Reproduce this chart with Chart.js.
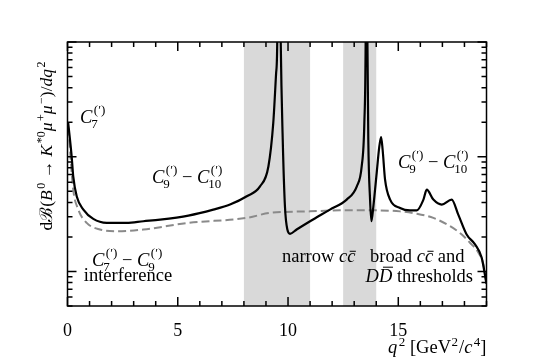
<!DOCTYPE html>
<html>
<head>
<meta charset="utf-8">
<script src="https://cdn.jsdelivr.net/npm/chart.js@4.4.0/dist/chart.umd.min.js"></script>
<style>
  html, body { margin: 0; padding: 0; background: #fff; }
  #wrap { width: 540px; height: 360px; }
</style>
</head>
<body>
<div id="wrap"><canvas id="chart" width="540" height="360"></canvas></div>
<script>
// dB/dq^2 for B0 -> K*0 mu+ mu- (arbitrary units)
// full spectrum including charmonium resonances
const qFull = [0.03, 0.19, 0.26, 0.42, 0.72, 1.17, 1.78, 2.68, 3.44, 4.20, 5.48, 6.61, 7.37, 8.13, 8.73,
  9.11, 9.33, 9.46, 9.51, 9.57, 9.67, 9.76, 9.86, 9.97, 10.09, 10.39, 11.00, 11.90, 12.66, 13.12,
  13.34, 13.46, 13.52, 13.56, 13.60, 13.64, 13.72, 13.78, 13.87, 14.02, 14.14, 14.22, 14.29, 14.40,
  14.63, 15.08, 15.53, 15.84, 16.14, 16.29, 16.59, 16.97, 17.42, 17.72, 18.10, 18.48, 18.78, 19.0];
const bFull = [1.98, 1.0, 0.674, 0.451, 0.346, 0.287, 0.265, 0.265, 0.274, 0.283, 0.307, 0.346, 0.383, 0.452, 0.552,
  0.823, 1.96, 5.35, 9.75, 1000, 9.8, 1.41, 0.370, 0.232, 0.213, 0.232, 0.274, 0.346, 0.423, 0.552,
  0.823, 1.96, 10.4, 1000, 10.4, 1.41, 0.423, 0.274, 0.370, 0.721, 1.23, 1.48, 1.15, 0.631,
  0.423, 0.358, 0.341, 0.341, 0.423, 0.517, 0.423, 0.383, 0.423, 0.313, 0.210, 0.172, 0.132, 0.078];

// short-distance part only (dashed)
const qShort = [0.04, 0.26, 0.49, 0.87, 1.47, 2.23, 3.44, 5.48, 8.13, 9.18, 11.0, 12.36, 13.72, 15.08,
  15.84, 16.59, 17.35, 17.88, 18.25, 18.63, 18.86, 19.0];
const bShort = [1.79, 0.517, 0.346, 0.265, 0.232, 0.224, 0.232, 0.265, 0.293, 0.324, 0.334, 0.341, 0.341, 0.334,
  0.319, 0.293, 0.248, 0.210, 0.178, 0.146, 0.115, 0.078];

// vetoed charmonium regions
const bandLo = [8, 12.5];
const bandHi = [11, 14];

const xTickLabels = [0, 5, 10, 15];

const SERIF = '"Liberation Serif", "DejaVu Serif", serif';
function font(size, it) { return (it ? 'italic ' : '') + size + 'px ' + SERIF; }

// little rich-text writer: parts = [{t, i, sub, sup, bar}]
function layoutRich(ctx, parts, size) {
  const small = Math.round(size * 0.7);
  let w = 0;
  const items = parts.map(p => {
    ctx.font = font(size, p.i);
    const mw = ctx.measureText(p.t).width;
    ctx.font = font(small, false);
    const subW = p.sub ? ctx.measureText(p.sub).width : 0;
    const supW = p.sup ? ctx.measureText(p.sup).width : 0;
    const item = { p, x: w, mw };
    w += mw + Math.max(subW, supW) + (p.sub || p.sup ? 1.5 : 0);
    return item;
  });
  return { items, w };
}

function drawRich(ctx, parts, x, y, size, align) {
  const small = Math.round(size * 0.7);
  const { items, w } = layoutRich(ctx, parts, size);
  const x0 = align === 'center' ? x - w / 2 : align === 'right' ? x - w : x;
  ctx.textAlign = 'left';
  ctx.textBaseline = 'alphabetic';
  ctx.fillStyle = '#000';
  items.forEach(({ p, x: dx, mw }) => {
    const px = x0 + dx;
    ctx.font = font(size, p.i);
    ctx.fillText(p.t, px, y);
    if (p.bar) {
      const h = p.bar === 'cap' ? size * 0.8 : size * 0.58;
      ctx.strokeStyle = '#000';
      ctx.lineWidth = 1;
      ctx.beginPath();
      ctx.moveTo(px + mw * 0.3, y - h);
      ctx.lineTo(px + mw * 1.05, y - h);
      ctx.stroke();
    }
    const both = p.sub && p.sup;
    ctx.font = font(small, false);
    if (p.sup) ctx.fillText(p.sup, px + mw + (p.i ? 1.5 : 0.5), y - size * (both ? 0.46 : 0.38));
    if (p.sub) ctx.fillText(p.sub, px + mw - (p.i ? 1 : 0), y + size * 0.27);
  });
}

const bandsPlugin = {
  id: 'bands',
  beforeDatasetsDraw(chart) {
    const { ctx, chartArea: a, scales: { x } } = chart;
    ctx.save();
    ctx.fillStyle = '#d9d9d9';
    bandLo.forEach((lo, i) => {
      const x1 = x.getPixelForValue(lo), x2 = x.getPixelForValue(bandHi[i]);
      ctx.fillRect(x1, a.top, x2 - x1, a.bottom - a.top);
    });
    ctx.restore();
  }
};

const framePlugin = {
  id: 'frame',
  afterDraw(chart) {
    const { ctx, chartArea: a, scales: { x, y } } = chart;
    ctx.save();
    ctx.strokeStyle = '#000';
    ctx.lineWidth = 1.5;
    ctx.beginPath();
    // inward ticks on x, both edges
    for (let v = Math.ceil(x.min); v <= x.max; v++) {
      const px = x.getPixelForValue(v);
      const len = v % 5 === 0 ? 9 : 5;
      ctx.moveTo(px, a.bottom); ctx.lineTo(px, a.bottom - len);
      ctx.moveTo(px, a.top); ctx.lineTo(px, a.top + len);
    }
    // inward log ticks on y, both edges
    for (let k = -2; k <= 1; k++) {
      for (let m = 1; m <= 9; m++) {
        const v = m * Math.pow(10, k);
        if (v < y.min * 0.999 || v > y.max * 1.001) continue;
        const py = y.getPixelForValue(v);
        const len = m === 1 ? 9 : 5;
        ctx.moveTo(a.left, py); ctx.lineTo(a.left + len, py);
        ctx.moveTo(a.right, py); ctx.lineTo(a.right - len, py);
      }
    }
    ctx.stroke();
    ctx.strokeRect(a.left, a.top, a.right - a.left, a.bottom - a.top);

    // axis titles
    drawRich(ctx, [{ t: 'q', i: true, sup: '2' }, { t: ' [GeV', sup: '2' }, { t: '/' }, { t: 'c', i: true, sup: '4' }, { t: ']' }],
      a.right, 353, 18.5, 'right');
    ctx.save();
    ctx.translate(52, 146);
    ctx.rotate(-Math.PI / 2);
    drawRich(ctx, [{ t: 'dℬ(' }, { t: 'B', i: true, sup: '0' }, { t: ' → ' }, { t: 'K', i: true, sup: '*0' },
      { t: 'μ', i: true, sup: '+' }, { t: 'μ', i: true, sup: '−' }, { t: ')/' }, { t: 'dq', i: true, sup: '2' }],
      0, 0, 17.5, 'center');
    ctx.restore();

    // annotations
    const C = (n) => ({ t: 'C', i: true, sub: n, sup: '(′)' });
    drawRich(ctx, [C('7')], 80, 123, 18.5, 'left');
    drawRich(ctx, [C('9'), { t: ' − ' }, C('10')], 152, 183, 18.5, 'left');
    drawRich(ctx, [C('9'), { t: ' − ' }, C('10')], 398, 168, 18.5, 'left');
    drawRich(ctx, [C('7'), { t: ' − ' }, C('9')], 92, 266, 18.5, 'left');
    drawRich(ctx, [{ t: 'interference' }], 128, 281, 18.5, 'center');
    drawRich(ctx, [{ t: 'narrow ' }, { t: 'c', i: true }, { t: 'c', i: true, bar: 'x' }], 282, 262, 18.5, 'left');
    drawRich(ctx, [{ t: 'broad ' }, { t: 'c', i: true }, { t: 'c', i: true, bar: 'x' }, { t: ' and' }], 370, 262, 18.5, 'left');
    drawRich(ctx, [{ t: 'D', i: true }, { t: 'D', i: true, bar: 'cap' }, { t: ' thresholds' }], 473, 282, 18.5, 'right');
    ctx.restore();
  }
};

const toPoints = (xs, ys) => xs.map((q, i) => ({ x: q, y: ys[i] }));

new Chart(document.getElementById('chart').getContext('2d'), {
  type: 'line',
  data: {
    datasets: [
      {
        data: toPoints(qFull, bFull),
        borderColor: '#000',
        borderWidth: 2.2,
        pointRadius: 0,
        fill: false,
        cubicInterpolationMode: 'monotone',
        order: 0
      },
      {
        data: toPoints(qShort, bShort),
        borderColor: '#8a8a8a',
        borderWidth: 2,
        borderDash: [8, 4],
        pointRadius: 0,
        fill: false,
        cubicInterpolationMode: 'monotone',
        order: 1
      }
    ]
  },
  options: {
    responsive: false,
    animation: false,
    events: [],
    layout: { padding: { left: 0, right: 53.5, top: 42, bottom: 0 } },
    plugins: { legend: { display: false }, tooltip: { enabled: false } },
    scales: {
      x: {
        type: 'linear', min: 0, max: 19,
        grid: { display: false }, border: { display: false },
        ticks: {
          stepSize: 1, autoSkip: false, maxRotation: 0, padding: 6, color: '#000',
          font: { family: SERIF, size: 18 },
          callback: v => xTickLabels.includes(v) ? String(v) : ''
        },
        afterFit: s => { s.height = 54; }
      },
      y: {
        type: 'logarithmic', min: 0.05, max: 10,
        grid: { display: false }, border: { display: false },
        ticks: { display: false },
        afterFit: s => { s.width = 67.5; }
      }
    }
  },
  plugins: [bandsPlugin, framePlugin]
});
</script>
</body>
</html>
